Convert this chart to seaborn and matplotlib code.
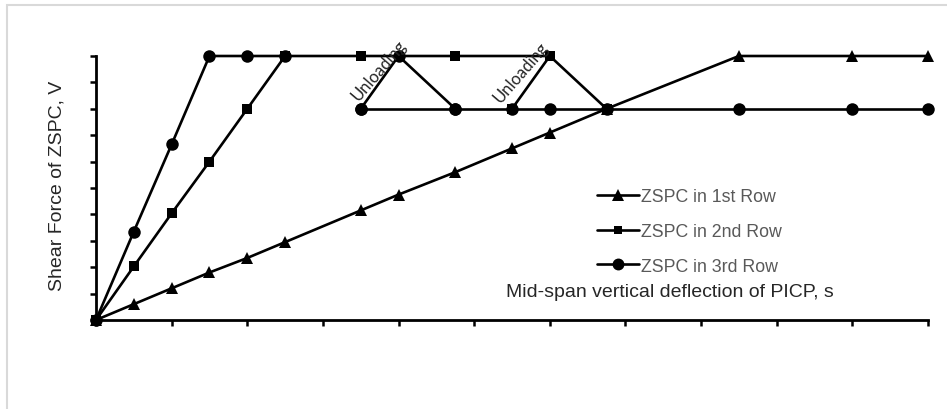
import seaborn as sns
import pandas as pd
import matplotlib.pyplot as plt
from matplotlib.lines import Line2D
from matplotlib.patches import Rectangle

# ZSPC in 1st Row (triangles)
row1_x = [0, 0.5, 1, 1.5, 2, 2.5, 3.5, 4, 4.75, 5.5, 6, 6.75, 8.5, 10, 11]
row1_y = [0, 0.6, 1.2, 1.8, 2.35, 2.95, 4.15, 4.75, 5.6, 6.5, 7.1, 8, 10, 10, 10]
row1_seg = [0] * 15

# ZSPC in 2nd Row (squares)
row2_x = [0, 0.5, 1, 1.5, 2, 2.5, 3.5, 4.75, 6, 6.75, 5.5, 6]
row2_y = [0, 2.03, 4.04, 6.0, 8.0, 10, 10, 10, 10, 8, 8, 10]
row2_seg = [0] * 10 + [1] * 2

# ZSPC in 3rd Row (circles)
row3_x = [0, 0.5, 1, 1.5, 2, 2.5, 3.5, 4, 4.75, 3.5, 4.75, 5.5, 6, 6.75, 8.5, 10, 11]
row3_y = [0, 3.35, 6.65, 10, 10, 10, 8, 10, 8, 8, 8, 8, 8, 8, 8, 8, 8]
row3_seg = [0] * 6 + [1] * 3 + [2] * 8

labels = ["ZSPC in 1st Row", "ZSPC in 2nd Row", "ZSPC in 3rd Row"]
markers = ["^", "s", "o"]
msizes = [8.5, 6.8, 9]

unload_x = [3.74, 5.62]
unload_y = [9.5, 9.42]

sns.set_style("ticks")
plt.rcParams["font.family"] = ["Liberation Sans", "DejaVu Sans"]

fig = plt.figure(figsize=(9.47, 4.10), dpi=100)
ax = fig.add_axes([96 / 947, 1 - 321 / 410, (928 - 96) / 947, (321 - 57) / 410])

frames = [
    pd.DataFrame({"x": row1_x, "y": row1_y, "seg": row1_seg}),
    pd.DataFrame({"x": row2_x, "y": row2_y, "seg": row2_seg}),
    pd.DataFrame({"x": row3_x, "y": row3_y, "seg": row3_seg}),
]
for df, m, ms in zip(frames, markers, msizes):
    sns.lineplot(data=df, x="x", y="y", units="seg", estimator=None, sort=False,
                 color="black", marker=m, markersize=ms, markeredgewidth=0,
                 linewidth=1.9, clip_on=False, ax=ax)

ax.set_xlim(0, 11)
ax.set_ylim(0, 10)
ax.set_xticks(range(0, 12))
ax.set_yticks(range(0, 11))
ax.set_xticklabels([])
ax.set_yticklabels([])
ax.tick_params(direction="out", length=4.5, width=1.8, color="black")
sns.despine(ax=ax)
for s in ["left", "bottom"]:
    ax.spines[s].set_linewidth(2.0)
    ax.spines[s].set_color("black")

ax.set_xlabel("")
ax.set_ylabel("")
fig.text(57 / 947, 1 - 186 / 410, "Shear Force of ZSPC, V", rotation=90,
         ha="center", va="center", fontsize=14)
fig.text(670 / 947, 1 - 293 / 410, "Mid-span vertical deflection of PICP, s",
         ha="center", va="center", fontsize=14)

for x, y in zip(unload_x, unload_y):
    ax.text(x, y, "Unloading", rotation=49, ha="center", va="center",
            fontsize=12, family=["Lato", "DejaVu Sans"], rotation_mode="anchor")

handles = [Line2D([], [], color="black", marker=m, markersize=ms * 0.95,
                  markeredgewidth=0, linewidth=1.9) for m, ms in zip(markers, msizes)]
leg = fig.legend(handles, labels, loc="upper left",
                 bbox_to_anchor=(597 / 947, 1 - 189 / 410), frameon=False,
                 fontsize=12.8, handlelength=2.35, handletextpad=0.15,
                 labelspacing=1.0, borderpad=0, borderaxespad=0)
for t in leg.get_texts():
    t.set_color("#595959")

fig.add_artist(Rectangle((7 / 947, -0.2), 2, 1 - 6 / 410 + 0.2,
                         transform=fig.transFigure, fill=False,
                         edgecolor="#d9d9d9", linewidth=1.5))

fig.savefig("out.png", dpi=100)
